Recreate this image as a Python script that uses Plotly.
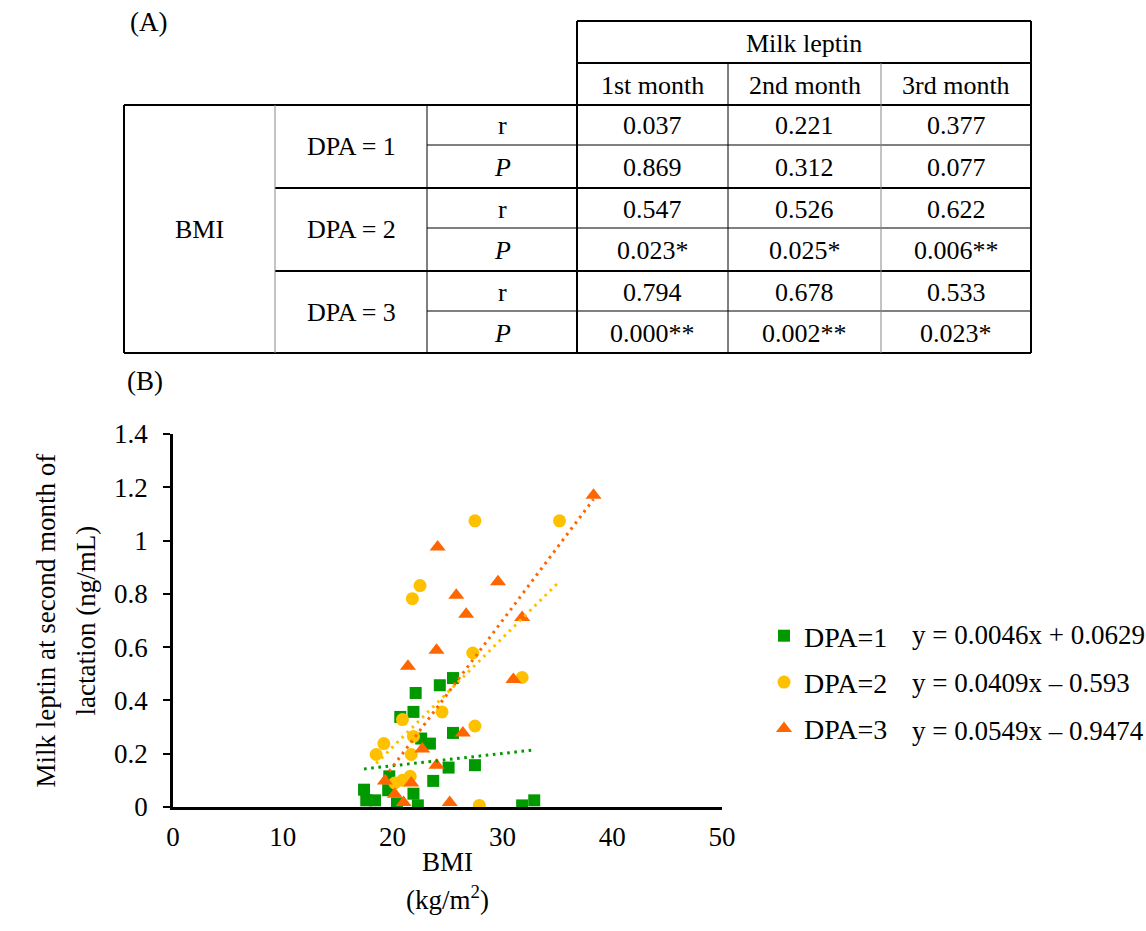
import plotly.graph_objects as go

# ---------------- (A) correlation table ----------------
months = ["1st month", "2nd month", "3rd month"]
groups = ["DPA = 1", "DPA = 2", "DPA = 3"]
r_values = [[0.037, 0.221, 0.377],
            [0.547, 0.526, 0.622],
            [0.794, 0.678, 0.533]]
p_labels = [["0.869", "0.312", "0.077"],
            ["0.023*", "0.025*", "0.006**"],
            ["0.000**", "0.002**", "0.023*"]]

# ---------------- (B) scatter data: BMI vs milk leptin (2nd month) ----------------
bmi_dpa1 = [17.4, 17.6, 18.4, 19.7, 19.6, 20.4, 20.7, 21.9, 22.1, 21.9, 22.3,
            22.6, 23.4, 23.7, 24.3, 25.5, 25.5, 25.1, 27.5, 31.8, 32.9]
lep_dpa1 = [0.065, 0.025, 0.025, 0.115, 0.063, 0.013, 0.338, 0.357, 0.428, 0.05, 0.006,
            0.257, 0.238, 0.098, 0.457, 0.484, 0.278, 0.148, 0.157, 0.006, 0.025]

bmi_dpa2 = [18.5, 19.2, 20.2, 20.9, 20.9, 21.6, 21.7, 21.9, 21.8, 22.5,
            24.5, 27.3, 27.5, 27.9, 27.5, 31.8, 35.2]
lep_dpa2 = [0.197, 0.238, 0.09, 0.10, 0.328, 0.115, 0.197, 0.265, 0.782, 0.831,
            0.357, 0.578, 0.304, 0.006, 1.074, 0.486, 1.074]

bmi_dpa3 = [19.3, 20.2, 21.0, 21.4, 21.7, 22.7, 24.0, 24.0, 24.1,
            25.2, 25.8, 26.4, 26.7, 29.6, 31.0, 31.8, 38.3]
lep_dpa3 = [0.098, 0.048, 0.017, 0.528, 0.09, 0.218, 0.157, 0.588, 0.976,
            0.017, 0.795, 0.278, 0.723, 0.845, 0.479, 0.711, 1.17]

# linear fits (slope, intercept) and their printed equations
fit_slopes = [0.0046, 0.0409, 0.0549]
fit_intercepts = [0.0629, -0.593, -0.9474]
fit_labels = ["y = 0.0046x + 0.0629", "y = 0.0409x – 0.593", "y = 0.0549x – 0.9474"]
series_names = ["DPA=1", "DPA=2", "DPA=3"]
series_colors = ["#009900", "#FFC000", "#FF6600"]
series_symbols = ["square", "circle", "triangle-up"]
series_sizes = [12, 13, 14]

FONT = "Liberation Serif"
W, H = 1146, 931
# plot-area edges in pixels
L, R, T, B = 173, 722, 434, 807


def fx(p):
    return (p - L) / (R - L)


def fy(p):
    return (B - p) / (B - T)


fig = go.Figure()

xs_all = [bmi_dpa1, bmi_dpa2, bmi_dpa3]
ys_all = [lep_dpa1, lep_dpa2, lep_dpa3]
for i in range(3):
    fig.add_trace(go.Scatter(
        x=xs_all[i], y=ys_all[i], mode="markers", name=series_names[i],
        legendgroup=series_names[i],
        marker=dict(symbol=series_symbols[i], size=series_sizes[i],
                    color=series_colors[i], line=dict(width=0)),
    ))

for i in range(3):
    x0, x1 = min(xs_all[i]), max(xs_all[i])
    fig.add_trace(go.Scatter(
        x=[x0, x1],
        y=[fit_slopes[i] * x0 + fit_intercepts[i], fit_slopes[i] * x1 + fit_intercepts[i]],
        mode="lines", showlegend=False, hoverinfo="skip",
        line=dict(color=series_colors[i], width=3, dash="2.6px,4.6px"),
    ))

shapes = []
annotations = []


def hline(y, x0, x1, w=1, c="black"):
    shapes.append(dict(type="line", xref="paper", yref="paper",
                       x0=fx(x0), x1=fx(x1), y0=fy(y), y1=fy(y),
                       line=dict(color=c, width=w)))


def vline(x, y0, y1, w=1, c="black"):
    shapes.append(dict(type="line", xref="paper", yref="paper",
                       x0=fx(x), x1=fx(x), y0=fy(y0), y1=fy(y1),
                       line=dict(color=c, width=w)))


def text(s, x, y, size=26, xanchor="center"):
    annotations.append(dict(text=s, xref="paper", yref="paper", x=fx(x), y=fy(y),
                            xanchor=xanchor, yanchor="middle", showarrow=False,
                            font=dict(family=FONT, size=size, color="black")))


# table grid
col_edges = [124, 275, 427, 577, 728, 881, 1031]
head_rows = [21, 63, 105]
body_rows = [105, 145, 188, 228, 271, 311, 353]

hline(head_rows[0], col_edges[3], col_edges[6], 2)
hline(head_rows[1], col_edges[3], col_edges[6], 2)
hline(body_rows[0], col_edges[0], col_edges[6], 2)
hline(body_rows[-1], col_edges[0], col_edges[6], 2)
for k in (2, 4):
    hline(body_rows[k], col_edges[1], col_edges[6], 2)
for k in (1, 3, 5):
    hline(body_rows[k], col_edges[2], col_edges[6], 1)
vline(col_edges[0], body_rows[0], body_rows[-1], 2)
vline(col_edges[6], head_rows[0], body_rows[-1], 2)
vline(col_edges[3], head_rows[0], body_rows[-1], 2)
vline(col_edges[1], body_rows[0], body_rows[-1], 1, "#888888")
vline(col_edges[2], body_rows[0], body_rows[-1], 1)
vline(col_edges[4], head_rows[1], body_rows[-1], 1)
vline(col_edges[5], head_rows[1], body_rows[-1], 1, "#888888")

col_mid = [(col_edges[j] + col_edges[j + 1]) / 2 for j in range(6)]
text("(A)", 148, 22, 27)
text("Milk leptin", (col_edges[3] + col_edges[6]) / 2, (head_rows[0] + head_rows[1]) / 2 + 1)
for j, m in enumerate(months):
    text(m, col_mid[3 + j], (head_rows[1] + head_rows[2]) / 2 + 1)
text("BMI", col_mid[0], (body_rows[0] + body_rows[-1]) / 2)
for g, name in enumerate(groups):
    top, mid, bot = body_rows[2 * g], body_rows[2 * g + 1], body_rows[2 * g + 2]
    text(name, col_mid[1], (top + bot) / 2)
    text("r", col_mid[2], (top + mid) / 2 + 1)
    text("<i>P</i>", col_mid[2], (mid + bot) / 2 + 1)
    for j in range(3):
        text(f"{r_values[g][j]:.3f}", col_mid[3 + j], (top + mid) / 2 + 1)
        text(p_labels[g][j], col_mid[3 + j], (mid + bot) / 2 + 1)

# panel (B) labels
text("(B)", 145, 381, 27)
text("Milk leptin at second month of", 45, (T + B) / 2, 27)
annotations[-1]["textangle"] = -90
text("lactation (ng/mL)", 85, (T + B) / 2, 27)
annotations[-1]["textangle"] = -90
text("BMI", (L + R) / 2, 862, 27)
text("(kg/m<sup>2</sup>)", (L + R) / 2, 898, 27)
for i, lab in enumerate(fit_labels):
    text(lab, 910, 635 + 48 * i, 27, xanchor="left")

fig.update_layout(
    width=W, height=H,
    margin=dict(l=L, r=W - R, t=T, b=H - B, pad=0),
    paper_bgcolor="white", plot_bgcolor="white",
    font=dict(family=FONT, size=27, color="black"),
    shapes=shapes, annotations=annotations,
    showlegend=True,
    legend=dict(x=fx(764), y=fy(611), xanchor="left", yanchor="top",
                font=dict(family=FONT, size=28, color="black"),
                tracegroupgap=7, itemwidth=30, bgcolor="rgba(0,0,0,0)"),
    xaxis=dict(range=[0, 50], dtick=10, showgrid=False, zeroline=False,
               showline=True, linecolor="black", linewidth=2.5,
               ticks="", ticklabelstandoff=4,
               tickfont=dict(family=FONT, size=27)),
    yaxis=dict(range=[0, 1.4], dtick=0.2, showgrid=False, zeroline=False,
               showline=True, linecolor="black", linewidth=2.5,
               ticks="outside", ticklen=7, tickwidth=2, tickcolor="black",
               ticklabelstandoff=10,
               tickfont=dict(family=FONT, size=27)),
)

fig.write_html("out.html")
